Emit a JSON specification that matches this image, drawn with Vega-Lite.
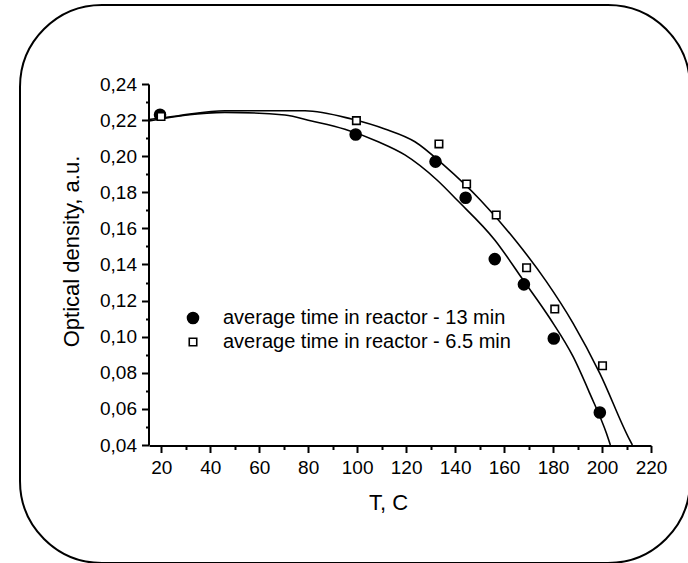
{
  "$schema": "https://vega.github.io/schema/vega-lite/v6.json",
  "width": 670,
  "height": 558,
  "padding": {"left": 20, "top": 5, "right": 0, "bottom": 0},
  "background": "white",
  "config": {
    "view": {"stroke": "black", "strokeWidth": 2, "cornerRadius": 82, "fill": "white"},
    "font": "Liberation Sans",
    "legend": {
      "labelLimit": 0,
      "labelFont": "Liberation Sans", "labelFontSize": 20, "labelColor": "black",
      "labelOffset": 20, "rowPadding": 4, "padding": 0,
      "symbolStrokeColor": "black", "symbolStrokeWidth": 1.6, "symbolOpacity": 1
    }
  },
  "datasets": {
    "points": [
      {"T": 19.5, "OD": 0.223, "series": "average time in reactor - 13 min"},
      {"T": 99.4, "OD": 0.212, "series": "average time in reactor - 13 min"},
      {"T": 132.0, "OD": 0.197, "series": "average time in reactor - 13 min"},
      {"T": 144.3, "OD": 0.177, "series": "average time in reactor - 13 min"},
      {"T": 156.2, "OD": 0.143, "series": "average time in reactor - 13 min"},
      {"T": 168.1, "OD": 0.129, "series": "average time in reactor - 13 min"},
      {"T": 180.3, "OD": 0.099, "series": "average time in reactor - 13 min"},
      {"T": 199.1, "OD": 0.058, "series": "average time in reactor - 13 min"},
      {"T": 19.9, "OD": 0.222, "series": "average time in reactor - 6.5 min"},
      {"T": 99.7, "OD": 0.2197, "series": "average time in reactor - 6.5 min"},
      {"T": 133.4, "OD": 0.2068, "series": "average time in reactor - 6.5 min"},
      {"T": 144.7, "OD": 0.1846, "series": "average time in reactor - 6.5 min"},
      {"T": 156.8, "OD": 0.1674, "series": "average time in reactor - 6.5 min"},
      {"T": 169.2, "OD": 0.1382, "series": "average time in reactor - 6.5 min"},
      {"T": 180.7, "OD": 0.1153, "series": "average time in reactor - 6.5 min"},
      {"T": 200.2, "OD": 0.0839, "series": "average time in reactor - 6.5 min"}
    ],
    "curves": [
      {"T": 15, "OD": 0.2195, "curve": "13"},
      {"T": 46, "OD": 0.2243, "curve": "13"},
      {"T": 70.5, "OD": 0.2228, "curve": "13"},
      {"T": 81.4, "OD": 0.2195, "curve": "13"},
      {"T": 95, "OD": 0.2149, "curve": "13"},
      {"T": 108.6, "OD": 0.208, "curve": "13"},
      {"T": 119.5, "OD": 0.2007, "curve": "13"},
      {"T": 132.6, "OD": 0.1868, "curve": "13"},
      {"T": 140.8, "OD": 0.1757, "curve": "13"},
      {"T": 156.2, "OD": 0.1536, "curve": "13"},
      {"T": 167.8, "OD": 0.1314, "curve": "13"},
      {"T": 178.7, "OD": 0.1102, "curve": "13"},
      {"T": 188.2, "OD": 0.0889, "curve": "13"},
      {"T": 195, "OD": 0.0686, "curve": "13"},
      {"T": 201.8, "OD": 0.0465, "curve": "13"},
      {"T": 203.4, "OD": 0.04, "curve": "13"},
      {"T": 15, "OD": 0.2203, "curve": "6.5"},
      {"T": 27, "OD": 0.2224, "curve": "6.5"},
      {"T": 46, "OD": 0.2252, "curve": "6.5"},
      {"T": 78.7, "OD": 0.2252, "curve": "6.5"},
      {"T": 97.7, "OD": 0.2206, "curve": "6.5"},
      {"T": 111.3, "OD": 0.2151, "curve": "6.5"},
      {"T": 123.6, "OD": 0.208, "curve": "6.5"},
      {"T": 135.4, "OD": 0.195, "curve": "6.5"},
      {"T": 150.3, "OD": 0.1757, "curve": "6.5"},
      {"T": 165.1, "OD": 0.1526, "curve": "6.5"},
      {"T": 177.3, "OD": 0.1305, "curve": "6.5"},
      {"T": 188.2, "OD": 0.1074, "curve": "6.5"},
      {"T": 199.1, "OD": 0.0797, "curve": "6.5"},
      {"T": 211.3, "OD": 0.0428, "curve": "6.5"},
      {"T": 212.4, "OD": 0.04, "curve": "6.5"}
    ]
  },
  "encoding": {
    "x": {
      "field": "T", "type": "quantitative",
      "scale": {"domain": [15, 220], "range": [129, 631], "nice": false, "zero": false},
      "axis": {
        "title": "T, C",
        "offset": -117.5,
        "grid": false,
        "values": [20, 30, 40, 50, 60, 70, 80, 90, 100, 110, 120, 130, 140, 150, 160, 170, 180, 190, 200, 210, 220],
        "labelExpr": "datum.value % 20 === 0 ? datum.label : ''",
        "tickSize": {"condition": {"test": "datum.value % 20 === 0", "value": 7}, "value": 4},
        "tickColor": "black", "tickWidth": 2,
        "domainColor": "black", "domainWidth": 2,
        "labelColor": "black", "labelFont": "Liberation Sans", "labelFontSize": 19,
        "labelPadding": 6, "labelFlush": false,
        "titleColor": "black", "titleFont": "Liberation Sans", "titleFontSize": 22, "titleFontWeight": "normal",
        "titleX": 368, "titleY": 64, "titleBaseline": "alphabetic", "titleAlign": "center"
      }
    },
    "y": {
      "field": "OD", "type": "quantitative",
      "scale": {"domain": [0.04, 0.24], "range": [440, 79], "nice": false, "zero": false},
      "axis": {
        "title": "Optical density, a.u.",
        "offset": -128.5,
        "grid": false,
        "values": [0.04, 0.05, 0.06, 0.07, 0.08, 0.09, 0.1, 0.11, 0.12, 0.13, 0.14, 0.15, 0.16, 0.17, 0.18, 0.19, 0.2, 0.21, 0.22, 0.23, 0.24],
        "labelExpr": "round(datum.value * 100) % 2 === 0 ? replace(format(datum.value, '.2f'), '.', ',') : ''",
        "tickSize": {"condition": {"test": "round(datum.value * 100) % 2 === 0", "value": 7}, "value": 3},
        "tickColor": "black", "tickWidth": 2,
        "domainColor": "black", "domainWidth": 2,
        "labelColor": "black", "labelFont": "Liberation Sans", "labelFontSize": 19,
        "labelPadding": 5, "labelFlush": false,
        "titleColor": "black", "titleFont": "Liberation Sans", "titleFontSize": 22, "titleFontWeight": "normal",
        "titleAngle": -90, "titleX": -77, "titleY": 246, "titleBaseline": "middle", "titleAlign": "center"
      }
    }
  },
  "layer": [
    {
      "data": {"name": "curves"},
      "mark": {"type": "line", "color": "black", "strokeWidth": 1.6, "interpolate": "monotone"},
      "encoding": {"detail": {"field": "curve", "type": "nominal"}}
    },
    {
      "data": {"name": "points"},
      "mark": {"type": "point", "stroke": "black", "strokeWidth": 1.6, "opacity": 1},
      "encoding": {
        "shape": {
          "field": "series", "type": "nominal",
          "scale": {"domain": ["average time in reactor - 13 min", "average time in reactor - 6.5 min"], "range": ["circle", "square"]},
          "legend": {
            "title": null, "orient": "none", "legendX": 163, "legendY": 303,
            "encode": {"symbols": {"update": {"stroke": {"value": "black"}, "strokeWidth": {"value": 1.6}, "opacity": {"value": 1}}}}
          }
        },
        "fill": {
          "field": "series", "type": "nominal",
          "scale": {"domain": ["average time in reactor - 13 min", "average time in reactor - 6.5 min"], "range": ["black", "white"]},
          "legend": {
            "title": null, "orient": "none", "legendX": 163, "legendY": 303,
            "encode": {"symbols": {"update": {"stroke": {"value": "black"}, "strokeWidth": {"value": 1.6}, "opacity": {"value": 1}}}}
          }
        },
        "size": {
          "field": "series", "type": "nominal",
          "scale": {"domain": ["average time in reactor - 13 min", "average time in reactor - 6.5 min"], "range": [121, 56]},
          "legend": {
            "title": null, "orient": "none", "legendX": 163, "legendY": 303,
            "encode": {"symbols": {"update": {"stroke": {"value": "black"}, "strokeWidth": {"value": 1.6}, "opacity": {"value": 1}}}}
          }
        }
      }
    }
  ]
}
